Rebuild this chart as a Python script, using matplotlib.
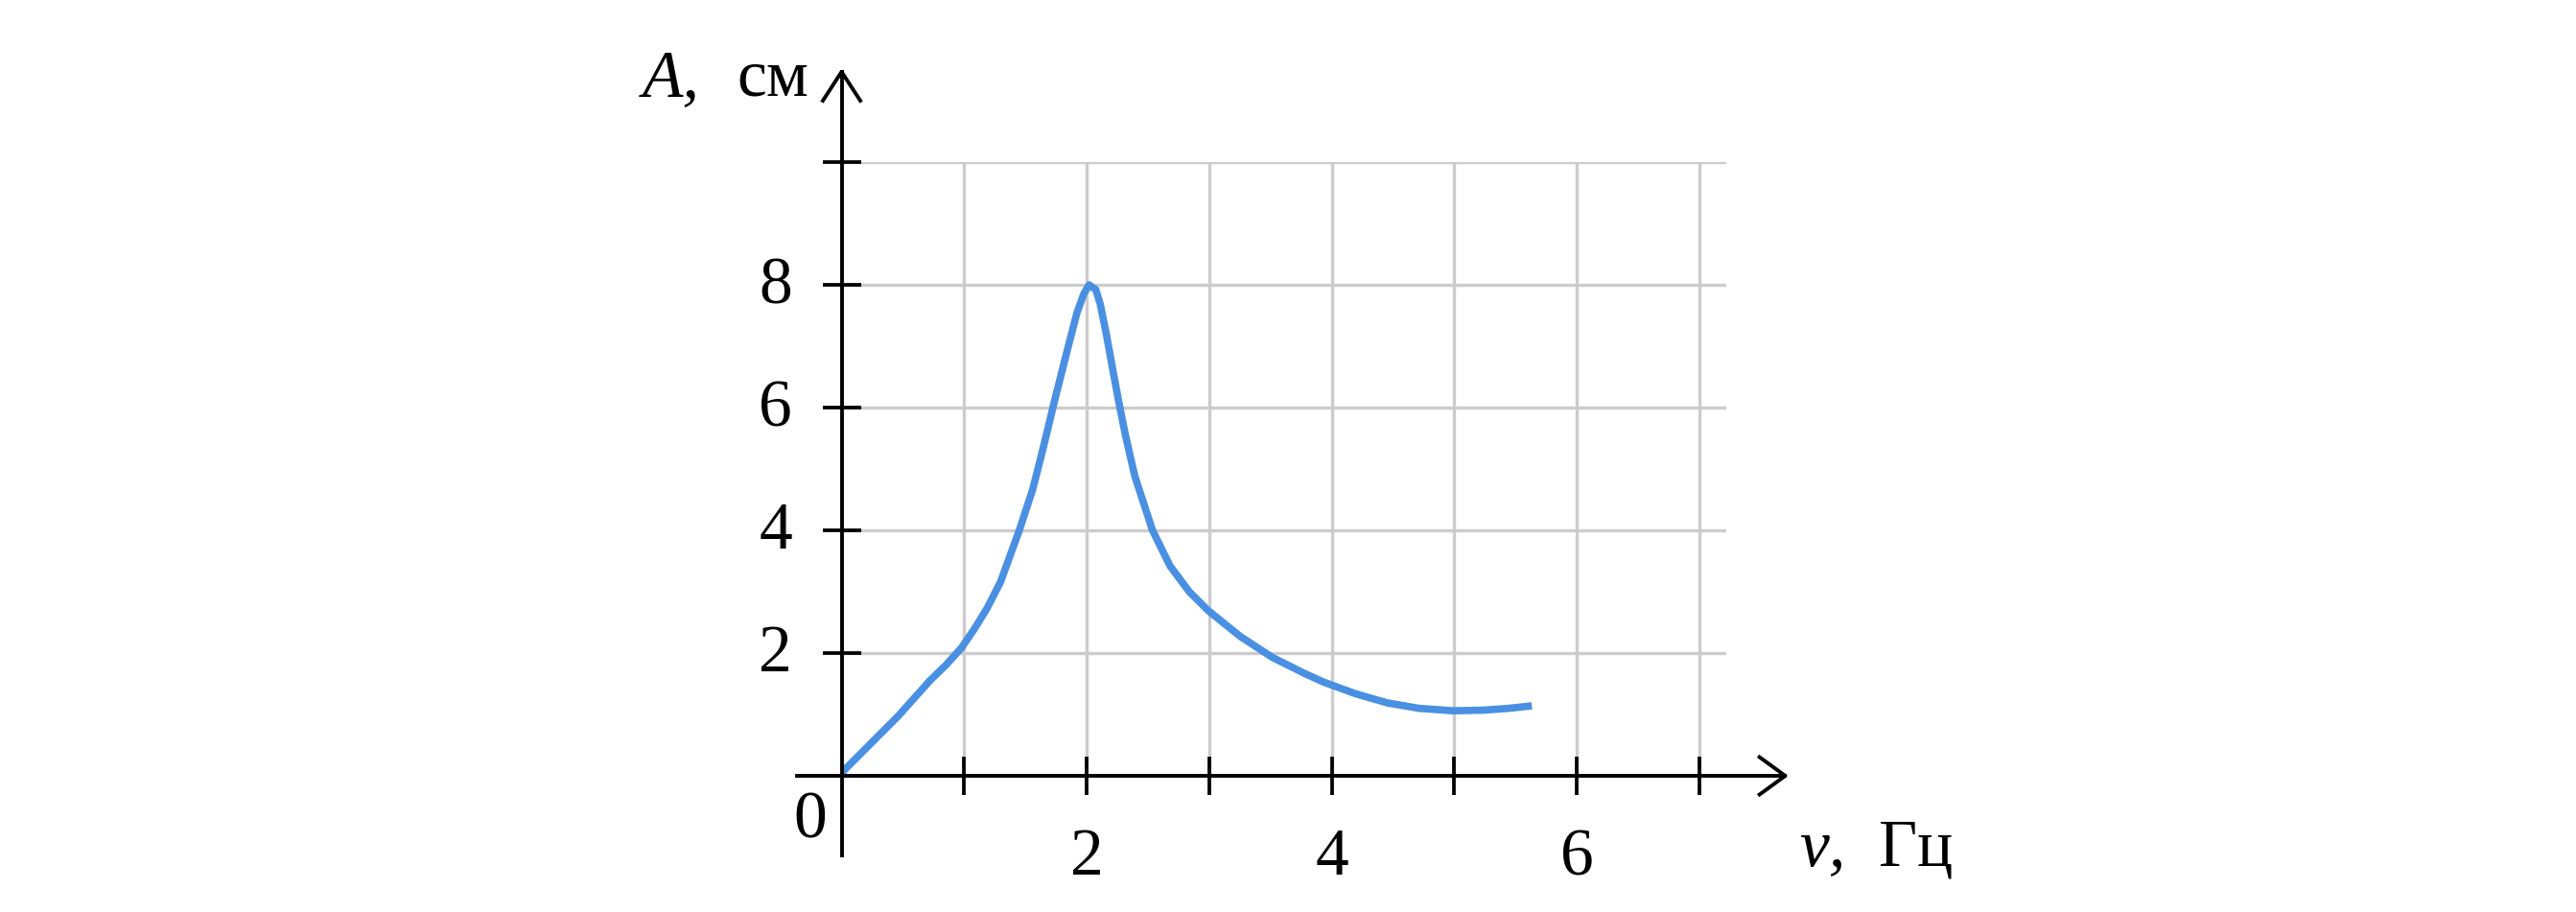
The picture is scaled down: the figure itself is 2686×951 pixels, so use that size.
import matplotlib.pyplot as plt

# curve: frequency (Hz) and amplitude (cm)
freq = [0.0, 0.02, 0.20, 0.46, 0.72, 0.854, 0.98, 1.089, 1.19, 1.297,
        1.45, 1.56, 1.64, 1.74, 1.845, 1.92, 1.976, 2.02, 2.075, 2.11,
        2.158, 2.21, 2.263, 2.315, 2.393, 2.537, 2.68, 2.837, 2.993, 3.254,
        3.515, 3.776, 3.93, 4.19, 4.45, 4.71, 4.99, 5.236, 5.444, 5.632]
amp = [0.0, 0.09, 0.45, 0.97, 1.55, 1.81, 2.09, 2.41, 2.74, 3.16,
       4.0, 4.67, 5.30, 6.13, 6.96, 7.54, 7.85, 8.0, 7.92, 7.69,
       7.22, 6.65, 6.08, 5.56, 4.88, 4.0, 3.42, 3.0, 2.69, 2.27,
       1.93, 1.67, 1.53, 1.34, 1.19, 1.10, 1.06, 1.07, 1.10, 1.14]

x_ticks = [1, 2, 3, 4, 5, 6, 7]
y_ticks = [2, 4, 6, 8, 10]
x_labels = ['2', '4', '6']
y_labels = ['2', '4', '6', '8']

plt.rcParams['font.family'] = ['Liberation Serif', 'DejaVu Serif']

fig = plt.figure(figsize=(26.86, 9.51), dpi=100)
ax = fig.add_axes([0.3267, 0.1493, 0.3435, 0.6730])
ax.set_xlim(0, 7.22)
ax.set_ylim(0, 10)

for s in ax.spines.values():
    s.set_visible(False)

ax.set_xticks(x_ticks)
ax.set_yticks(y_ticks)
ax.tick_params(direction='inout', length=28.8, width=2.7, color='black',
               labelbottom=False, labelleft=False)
ax.grid(True, color='#cccccc', linewidth=2.4)
ax.set_axisbelow(True)

ax.plot(freq, amp, color='#4a90e2', linewidth=5.5, solid_capstyle='butt',
        solid_joinstyle='round', zorder=2)

# axes with open arrow heads
ax.plot([0, 0], [-1.30, 11.47], color='black', lw=2.8, clip_on=False, zorder=3)
ax.plot([-0.364, 7.70], [0, 0], color='black', lw=2.8, clip_on=False, zorder=3)
ax.plot([-0.153, 0, 0.153], [11.0, 11.47, 11.0], color='black', lw=2.8,
        clip_on=False, zorder=3)
ax.plot([7.49, 7.70, 7.49], [0.305, 0, -0.305], color='black', lw=2.8,
        clip_on=False, zorder=3)

fs = 50
for lab in x_labels:
    ax.text(float(lab), -1.61, lab, fontsize=fs, ha='center', va='baseline')
for lab in y_labels:
    ax.text(-0.54, float(lab) - 0.3, lab, fontsize=fs, ha='center', va='baseline')
ax.text(-0.26, -1.0, '0', fontsize=fs, ha='center', va='baseline')

ax.text(-1.624, 11.08, 'A,', fontsize=fs, style='italic', ha='left', va='baseline')
ax.text(-0.857, 11.08, 'см', fontsize=fs, ha='left', va='baseline')
ax.text(7.813, -1.46, 'ν,', fontsize=fs, style='italic', ha='left', va='baseline')
ax.text(8.463, -1.46, 'Гц', fontsize=fs, ha='left', va='baseline')

fig.savefig('out.png', dpi=100)
